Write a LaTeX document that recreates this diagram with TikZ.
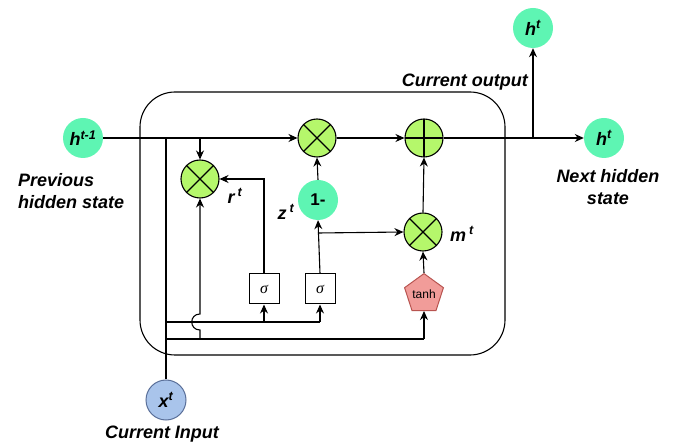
\documentclass[tikz,border=0pt]{standalone}
\usepackage{fontspec}
\setmainfont{Liberation Sans}
\newfontfamily\sigfont{Liberation Serif}
\usetikzlibrary{shapes.geometric,arrows.meta}
\definecolor{lime}{HTML}{B5F76B}
\definecolor{teal2}{HTML}{5EF5B3}
\definecolor{xblue}{HTML}{A9C4EB}
\definecolor{xborder}{HTML}{5A6F99}
\definecolor{tanhfill}{HTML}{F19C99}
\definecolor{tanhborder}{HTML}{B85450}
\tikzset{
  lbl/.style={font=\fontsize{18}{22}\selectfont\bfseries\itshape, inner sep=0},
  state/.style={circle, fill=teal2, minimum size=40, inner sep=0, font=\fontsize{18}{22}\selectfont\bfseries\itshape},
  mult/.style={circle, draw, fill=lime, minimum size=38, inner sep=0, line width=1.1,
    path picture={\draw[line width=1.1] ([shift={(-20,-20)}]path picture bounding box.center) -- ([shift={(20,20)}]path picture bounding box.center) ([shift={(-20,20)}]path picture bounding box.center) -- ([shift={(20,-20)}]path picture bounding box.center);}},
  plus/.style={circle, draw, fill=lime, minimum size=38, inner sep=0, line width=1.1,
    path picture={\draw[line width=1.1] (path picture bounding box.north) -- (path picture bounding box.south) (path picture bounding box.west) -- (path picture bounding box.east);}},
  sig/.style={draw, minimum size=30, inner sep=0, line width=1, fill=white, font=\sigfont\fontsize{16}{18}\selectfont\itshape},
  arr/.style={-{Stealth[length=9,width=8]}, line width=1.1},
  ln/.style={line width=1.1},
}
\begin{document}
\begin{tikzpicture}[x=1pt,y=-1pt]
\useasboundingbox (0,0) rectangle (675,446);
\node[draw, line width=1.1, rounded corners=35, minimum width=365, minimum height=263, inner sep=0] (cell) at (322.5,223.5) {};

\node[state] (hprev) at (83,138) {h\textsuperscript{t-1}};
\node[mult] (m1) at (317,138) {};
\node[plus] (p1) at (424,138) {};
\node[state] (hnext) at (604,138) {h\textsuperscript{t}};
\node[state] (htop) at (533,28) {h\textsuperscript{t}};
\node[mult] (rm) at (200,179) {};
\node[state, font=\fontsize{17}{20}\selectfont\bfseries] (om) at (318,200) {1-};
\node[mult] (mm) at (423,232) {};
\node[sig] (s1) at (264,289) {σ};
\node[sig] (s2) at (320,289) {σ};
\node[regular polygon, regular polygon sides=5, draw=tanhborder, fill=tanhfill, line width=1, minimum size=40, inner sep=0, font=\fontsize{12}{14}\selectfont] (th) at (424,294) {tanh};
\node[circle, draw=xborder, fill=xblue, line width=1, minimum size=40, inner sep=0, font=\fontsize{18}{22}\selectfont\bfseries\itshape] (xt) at (166,400) {x\textsuperscript{t}};

\coordinate (j1) at (166,138);
\coordinate (j2) at (200,138);
\coordinate (j3) at (533,138);
\coordinate (ya) at (166,322);
\coordinate (yb) at (166,339);
\coordinate (yr) at (200,339);
\coordinate (zb) at (318,233);

% main line
\draw[arr] (hprev.east) -- (m1.west);
\draw[arr] (m1.east) -- (p1.west);
\draw[arr] (p1.east) -- (hnext.west);
\draw[arr] (j3) -- (htop.south);
\draw[arr] (j2) -- (rm.north);
\draw[ln] (xt.north) -- (j1);

% inputs
\draw[ln] (ya) -- (s2.south |- ya);
\draw[arr] (s1.south |- ya) -- (s1.south);
\draw[arr] (s2.south |- ya) -- (s2.south);
\draw[ln] (yb) -- (th.south |- yb);
\draw[arr] (th.south |- yb) -- (th.south);
\draw[arr] (yr) -- (200,330) .. controls (189,330) and (189,314) .. (200,314) -- (rm.south);

% gates
\draw[arr] (s1.north) -- (s1.north |- rm.east) -- (rm.east);
\draw[arr] (s2.north) -- (om.south);
\draw[arr] (om.north) -- (m1.south);
\draw[arr] (zb) -- (mm.west);
\draw[arr] (th.north) -- (mm.south);
\draw[arr] (mm.north) -- (p1.south);

% labels
\node[lbl, anchor=west, align=left] (lprev) at (18,191) {Previous\\hidden state};
\node[lbl, align=center] (lnext) at (608,187) {Next hidden\\state};
\node[lbl, anchor=east] (lout) at (528,82) {Current output};
\node[lbl] (lin) at (162,434) {Current Input};
\node[lbl] (lr) at (235,196) {r\,\textsuperscript{t}};
\node[lbl] (lz) at (286,212) {z\,\textsuperscript{t}};
\node[lbl] (lm) at (462,234) {m\,\textsuperscript{t}};
\end{tikzpicture}
\end{document}
